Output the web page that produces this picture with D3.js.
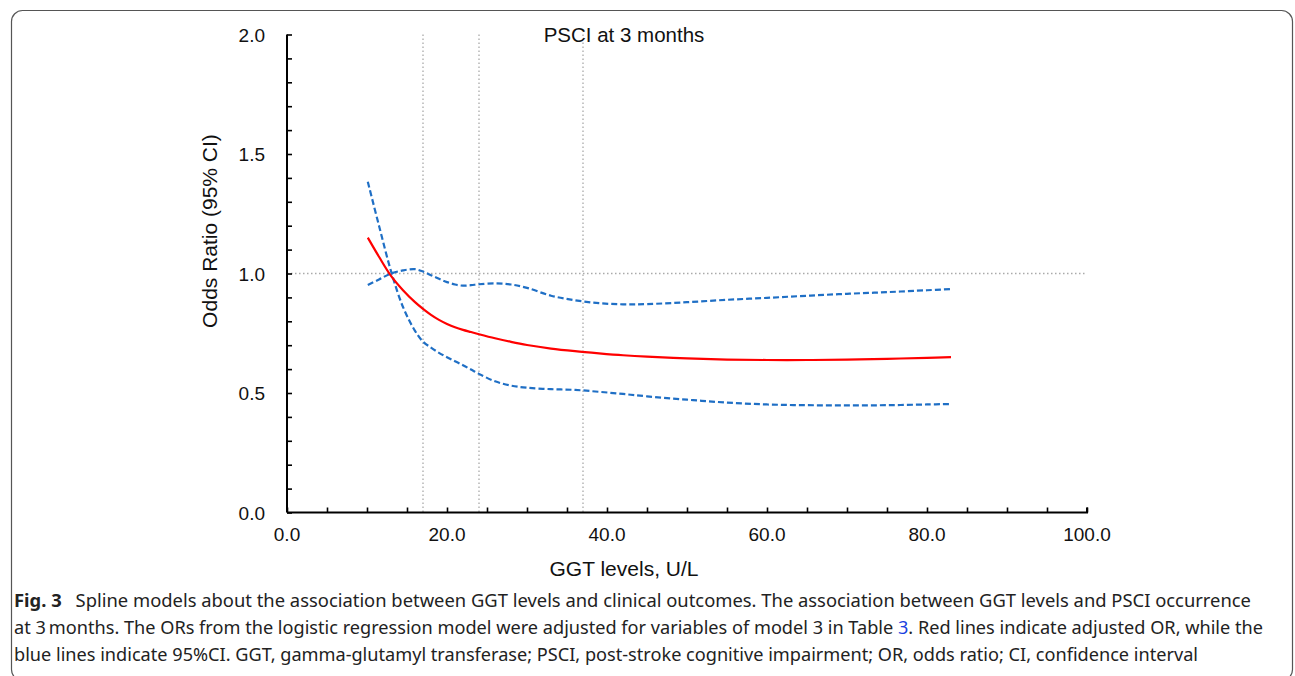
<!DOCTYPE html>
<html>
<head>
<meta charset="utf-8">
<script src="https://cdn.jsdelivr.net/npm/d3@7"></script>
<style>
  html, body { margin: 0; padding: 0; background: #fff; }
  svg { display: block; }
</style>
</head>
<body>
<svg id="chart" width="1295" height="676"></svg>
<script>
// ---- data ----
const ggt      = [10.1, 11.5, 13, 14.5, 16, 17, 18, 19, 20, 21, 22, 23, 24, 26, 28, 30, 33, 36, 39, 42, 45, 50, 55, 60, 65, 70, 75, 80, 83];
const orAdj    = [1.15, 1.07, 0.99, 0.93, 0.88, 0.852, 0.827, 0.806, 0.789, 0.775, 0.764, 0.755, 0.746, 0.729, 0.714, 0.701, 0.686, 0.675, 0.666, 0.658, 0.652, 0.645, 0.64, 0.638, 0.638, 0.64, 0.643, 0.647, 0.65];
const ciUpper  = [0.952, 0.975, 1.0, 1.013, 1.018, 1.008, 0.993, 0.978, 0.964, 0.954, 0.949, 0.951, 0.955, 0.959, 0.954, 0.94, 0.907, 0.888, 0.876, 0.871, 0.872, 0.88, 0.89, 0.898, 0.907, 0.915, 0.922, 0.93, 0.935];
const ciLower  = [1.384, 1.2, 1.01, 0.86, 0.76, 0.715, 0.69, 0.668, 0.65, 0.633, 0.616, 0.598, 0.58, 0.549, 0.531, 0.522, 0.516, 0.513, 0.505, 0.496, 0.486, 0.472, 0.46, 0.452, 0.449, 0.448, 0.449, 0.452, 0.454];
const cutoffs  = [17, 24, 37];
const refOR    = 1.0;
const xTickLabels = [0, 20, 40, 60, 80, 100];
const yTickLabels = [0, 0.5, 1.0, 1.5, 2.0];
const chartTitle = "PSCI at 3 months";
const xTitle = "GGT levels, U/L";
const yTitle = "Odds Ratio (95% CI)";

// ---- layout ----
const svg = d3.select("#chart");
const x = d3.scaleLinear().domain([0, 100]).range([287, 1087]);
const y = d3.scaleLinear().domain([0, 2]).range([512.5, 34.5]);

// border
svg.append("rect").attr("x", 11.5).attr("y", 10.5).attr("width", 1281).attr("height", 670)
  .attr("rx", 11).attr("fill", "none").attr("stroke", "#555").attr("stroke-width", 1.2);

const g = svg.append("g");
const fontChart = "'Liberation Sans', Arial, sans-serif";

// reference lines
g.selectAll("line.vref").data(cutoffs).join("line")
  .attr("x1", d => x(d)).attr("x2", d => x(d))
  .attr("y1", y(2)).attr("y2", y(0))
  .attr("stroke", "#aaa").attr("stroke-width", 1.3).attr("stroke-dasharray", "1.5,2.5");
g.append("line")
  .attr("x1", x(0)).attr("x2", x(100)).attr("y1", y(refOR)).attr("y2", y(refOR))
  .attr("stroke", "#aaa").attr("stroke-width", 1.3).attr("stroke-dasharray", "1.5,2.5");

// axes
const xAxis = d3.axisBottom(x).tickValues(d3.range(0, 100.01, 5)).tickSize(-5).tickFormat("");
const yAxis = d3.axisLeft(y).tickValues(d3.range(0, 2.001, 0.1)).tickSize(-5).tickFormat("");
const gx = g.append("g").attr("transform", `translate(0,${y(0)})`).call(xAxis);
const gy = g.append("g").attr("transform", `translate(${x(0)},0)`).call(yAxis);
[gx, gy].forEach(a => {
  a.select(".domain").attr("stroke", "#000").attr("stroke-width", 2);
  a.selectAll(".tick line").attr("stroke", "#000").attr("stroke-width", 1.6);
});
gy.select(".domain").attr("d", `M0,${y(2)}V${y(0)}`);
gx.select(".domain").attr("d", `M${x(0)},0H${x(100)}V-5`);

// tick labels
g.selectAll("text.xt").data(xTickLabels).join("text")
  .attr("x", d => x(d)).attr("y", 541)
  .attr("text-anchor", "middle").attr("font-family", fontChart).attr("font-size", 19).attr("fill", "#111")
  .text(d => d.toFixed(1));
g.selectAll("text.yt").data(yTickLabels).join("text")
  .attr("x", 265).attr("y", d => y(d) + 7)
  .attr("text-anchor", "end").attr("font-family", fontChart).attr("font-size", 19).attr("fill", "#111")
  .text(d => d.toFixed(1));

// titles
g.append("text").attr("x", 624).attr("y", 42).attr("text-anchor", "middle")
  .attr("font-family", fontChart).attr("font-size", 20.5).attr("fill", "#111").text(chartTitle);
g.append("text").attr("x", 624).attr("y", 576).attr("text-anchor", "middle")
  .attr("font-family", fontChart).attr("font-size", 21).attr("fill", "#111").text(xTitle);
g.append("text").attr("transform", "translate(217,231) rotate(-90)").attr("text-anchor", "middle")
  .attr("font-family", fontChart).attr("font-size", 21).attr("fill", "#111").text(yTitle);

// curves
const line = d3.line().x(d => x(d[0])).y(d => y(d[1])).curve(d3.curveCatmullRom.alpha(0.5));
const zip = arr => ggt.map((v, i) => [v, arr[i]]);
g.append("path").attr("d", line(zip(ciUpper))).attr("fill", "none")
  .attr("stroke", "#1f6fc5").attr("stroke-width", 2.2).attr("stroke-dasharray", "6,3");
g.append("path").attr("d", line(zip(ciLower))).attr("fill", "none")
  .attr("stroke", "#1f6fc5").attr("stroke-width", 2.2).attr("stroke-dasharray", "6,3");
g.append("path").attr("d", line(zip(orAdj))).attr("fill", "none")
  .attr("stroke", "#ff0000").attr("stroke-width", 2.2);

// caption
const capFont = "'Noto Sans', 'Open Sans', sans-serif";
const cap = svg.append("g").attr("font-family", capFont).attr("font-size", 18).attr("fill", "#222");
const l1 = cap.append("text").attr("x", 14).attr("y", 607).attr("textLength", 1237).attr("lengthAdjust", "spacingAndGlyphs");
l1.append("tspan").attr("font-weight", "bold").text("Fig. 3");
l1.append("tspan").text("\u2002 Spline models about the association between GGT levels and clinical outcomes. The association between GGT levels and PSCI occurrence");
const l2 = cap.append("text").attr("x", 14).attr("y", 634).attr("textLength", 1249).attr("lengthAdjust", "spacingAndGlyphs");
l2.append("tspan").text("at 3\u2009months. The ORs from the logistic regression model were adjusted for variables of model 3 in Table ");
l2.append("tspan").attr("fill", "#1a3fe0").text("3");
l2.append("tspan").text(". Red lines indicate adjusted OR, while the");
cap.append("text").attr("x", 14).attr("y", 661).attr("textLength", 1184).attr("lengthAdjust", "spacingAndGlyphs")
  .text("blue lines indicate 95%CI. GGT, gamma-glutamyl transferase; PSCI, post-stroke cognitive impairment; OR, odds ratio; CI, confidence interval");
</script>
</body>
</html>
